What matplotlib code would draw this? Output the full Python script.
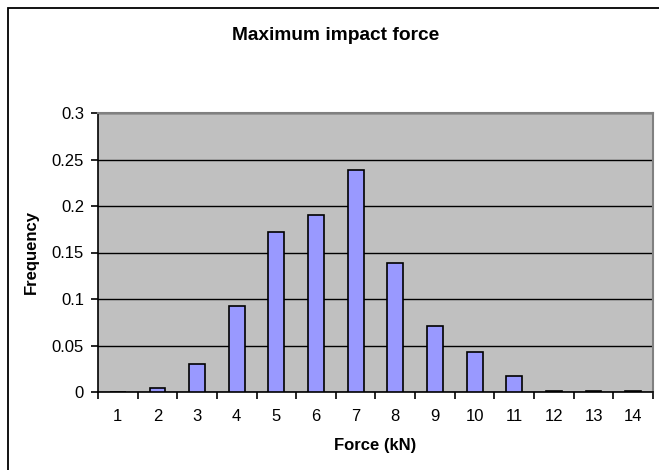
import matplotlib.pyplot as plt
import numpy as np
from matplotlib.patches import Rectangle

plt.rcParams['font.family'] = ['Liberation Sans', 'DejaVu Sans']

# data
force = [1, 2, 3, 4, 5, 6, 7, 8, 9, 10, 11, 12, 13, 14]
freq = [0.0, 0.004, 0.030, 0.093, 0.172, 0.190, 0.239, 0.139, 0.071, 0.043, 0.017, 0.001, 0.001, 0.001]

fig = plt.figure(figsize=(6.59, 4.70), dpi=100)
ax = fig.add_axes([98 / 659, 1 - 392 / 470, 555 / 659, 279 / 470])

# outer chart border (runs off the right and bottom edges)
fig.patches.append(Rectangle((7.5 / 659, -5 / 470), 660 / 659, 467 / 470, transform=fig.transFigure,
                             fill=False, edgecolor='black', linewidth=1.3))

x = np.arange(len(force))
ax.set_facecolor('#C0C0C0')
ax.bar(x, freq, width=0.4, color='#9999FF', edgecolor='black', linewidth=1.2, zorder=3)

ax.set_xlim(-0.5, len(force) - 0.5)
ax.set_ylim(0, 0.3)
ax.set_yticks(np.arange(0, 0.31, 0.05))
ax.set_yticklabels(['0', '0.05', '0.1', '0.15', '0.2', '0.25', '0.3'], fontsize=12)
ax.yaxis.grid(True, color='black', linewidth=1, zorder=1)

# tick marks between categories, labels in the middle
ax.set_xticks(np.arange(-0.5, len(force), 1))
ax.set_xticklabels([])
ax.set_xticks(x, minor=True)
ax.set_xticklabels([str(f) for f in force], minor=True, fontsize=12)
ax.tick_params(axis='x', which='minor', length=0, pad=12)
ax.tick_params(axis='x', which='major', length=5, width=1.2)
ax.tick_params(axis='y', length=5, width=1.2, pad=5)

for s in ['top', 'right']:
    ax.spines[s].set_color('#808080')
    ax.spines[s].set_linewidth(1.5)
ax.spines['left'].set_linewidth(1.2)
ax.spines['bottom'].set_linewidth(1.2)

ax.set_xlabel('Force (kN)', fontsize=12, fontweight='bold', labelpad=10)
ax.set_ylabel('Frequency', fontsize=12, fontweight='bold', labelpad=9)
fig.text(336 / 659, 1 - 35 / 470, 'Maximum impact force', ha='center', va='center', fontsize=13.8, fontweight='bold')

plt.savefig('out.png', dpi=100)
